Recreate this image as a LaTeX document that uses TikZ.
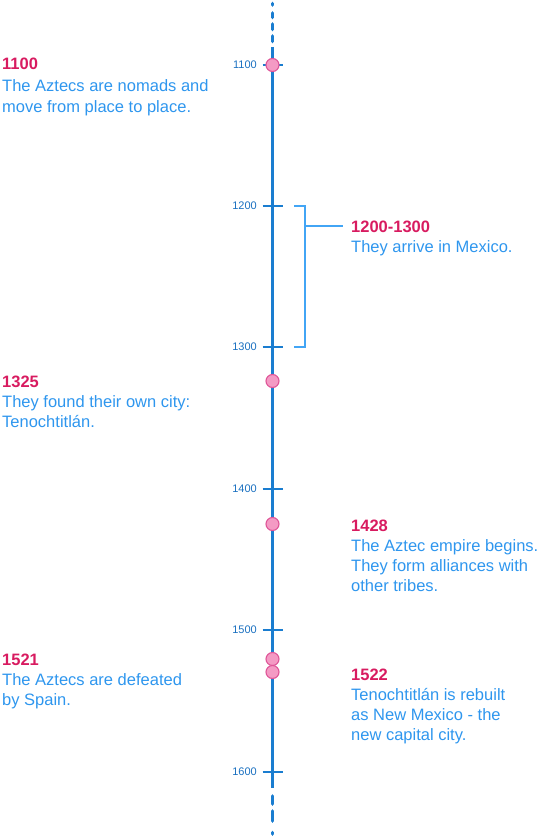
\documentclass[tikz,border=0pt]{standalone}
\usepackage{fontspec}
\setmainfont{Liberation Sans}
\definecolor{axisblue}{HTML}{1A7DD0}
\definecolor{ticklab}{HTML}{1A70C0}
\definecolor{txtblue}{HTML}{2E96EE}
\definecolor{brblue}{HTML}{42A5F5}
\definecolor{ttlpink}{HTML}{D81B60}
\definecolor{dotfill}{HTML}{F49AC4}
\definecolor{dotdraw}{HTML}{DF5598}
\tikzset{
  axisline/.style={draw=axisblue,line width=3.6pt},
  axisdash/.style={draw=axisblue,line width=3.6pt,line cap=round},
  tickline/.style={draw=axisblue,line width=2pt},
  ticklabel/.style={anchor=east,inner sep=0pt,text=ticklab,font=\fontsize{11}{12}\selectfont},
  evdot/.style={circle,fill=dotfill,draw=dotdraw,line width=1.1pt,minimum size=13pt,inner sep=0pt},
  ttl/.style={anchor=base west,inner sep=0pt,text=ttlpink,font=\fontsize{16.5}{20}\selectfont\bfseries},
  body/.style={anchor=base west,inner sep=0pt,text=txtblue,font=\fontsize{16.5}{20}\selectfont},
  bracket/.style={draw=brblue,line width=1.3pt}
}
\begin{document}
\begin{tikzpicture}[x=1pt,y=-1pt]
\useasboundingbox (0,0) rectangle (538,837);
% axis
\coordinate (top) at (272.5,47);
\coordinate (bot) at (272.5,788);
\draw[axisline] (top) -- (bot);
\draw[axisdash] (272.5,3.5) -- (272.5,5);
\draw[axisdash] (272.5,13) -- (272.5,17.5);
\draw[axisdash] (272.5,24) -- (272.5,29.5);
\draw[axisdash] (272.5,36) -- (272.5,41.5);
\draw[axisdash] (272.5,796) -- (272.5,804);
\draw[axisdash] (272.5,811) -- (272.5,821);
\draw[axisdash] (272.5,832.5) -- (272.5,834);
% ticks
\foreach \yr/\yy in {1100/65,1200/206,1300/347,1400/489,1500/630,1600/772}{
  \coordinate (tl\yr) at (262.5,\yy);
  \coordinate (tr\yr) at (283,\yy);
  \draw[tickline] (tl\yr) -- (tr\yr);
  \node[ticklabel] (lab\yr) at (257,\yy-0.5) {\yr};
}
% bracket
\coordinate (b1) at (294,206);
\coordinate (b2) at (305,206);
\coordinate (b3) at (305,347);
\coordinate (b4) at (294,347);
\coordinate (bm) at (305,226);
\coordinate (be) at (343,226);
\draw[bracket] (b1) -- (b2) -- (b3) -- (b4);
\draw[bracket] (bm) -- (be);
% dots
\node[evdot] (d1100) at (272.5,65) {};
\node[evdot] (d1325) at (272.5,381) {};
\node[evdot] (d1428) at (272.5,524) {};
\node[evdot] (d1521) at (272.5,659) {};
\node[evdot] (d1522) at (272.5,672) {};
% texts
\node[ttl] (t1100) at (2,70) {1100};
\node[body] (t1100a) at (2,91.5) {The Aztecs are nomads and};
\node[body] (t1100b) at (2,112.5) {move from place to place.};

\node[ttl] (t1200) at (351,232) {1200-1300};
\node[body] (t1200a) at (351,252.5) {They arrive in Mexico.};

\node[ttl] (t1325) at (2,387) {1325};
\node[body] (t1325a) at (2,407) {They found their own city:};
\node[body] (t1325b) at (2,427) {Tenochtitlán.};

\node[ttl] (t1428) at (351,531) {1428};
\node[body] (t1428a) at (351,551.5) {The Aztec empire begins.};
\node[body] (t1428b) at (351,571.5) {They form alliances with};
\node[body] (t1428c) at (351,591.5) {other tribes.};

\node[ttl] (t1521) at (2,665) {1521};
\node[body] (t1521a) at (2,685) {The Aztecs are defeated};
\node[body] (t1521b) at (2,705) {by Spain.};

\node[ttl] (t1522) at (351,680) {1522};
\node[body] (t1522a) at (351,700) {Tenochtitlán is rebuilt};
\node[body] (t1522b) at (351,720) {as New Mexico - the};
\node[body] (t1522c) at (351,740) {new capital city.};
\end{tikzpicture}
\end{document}
